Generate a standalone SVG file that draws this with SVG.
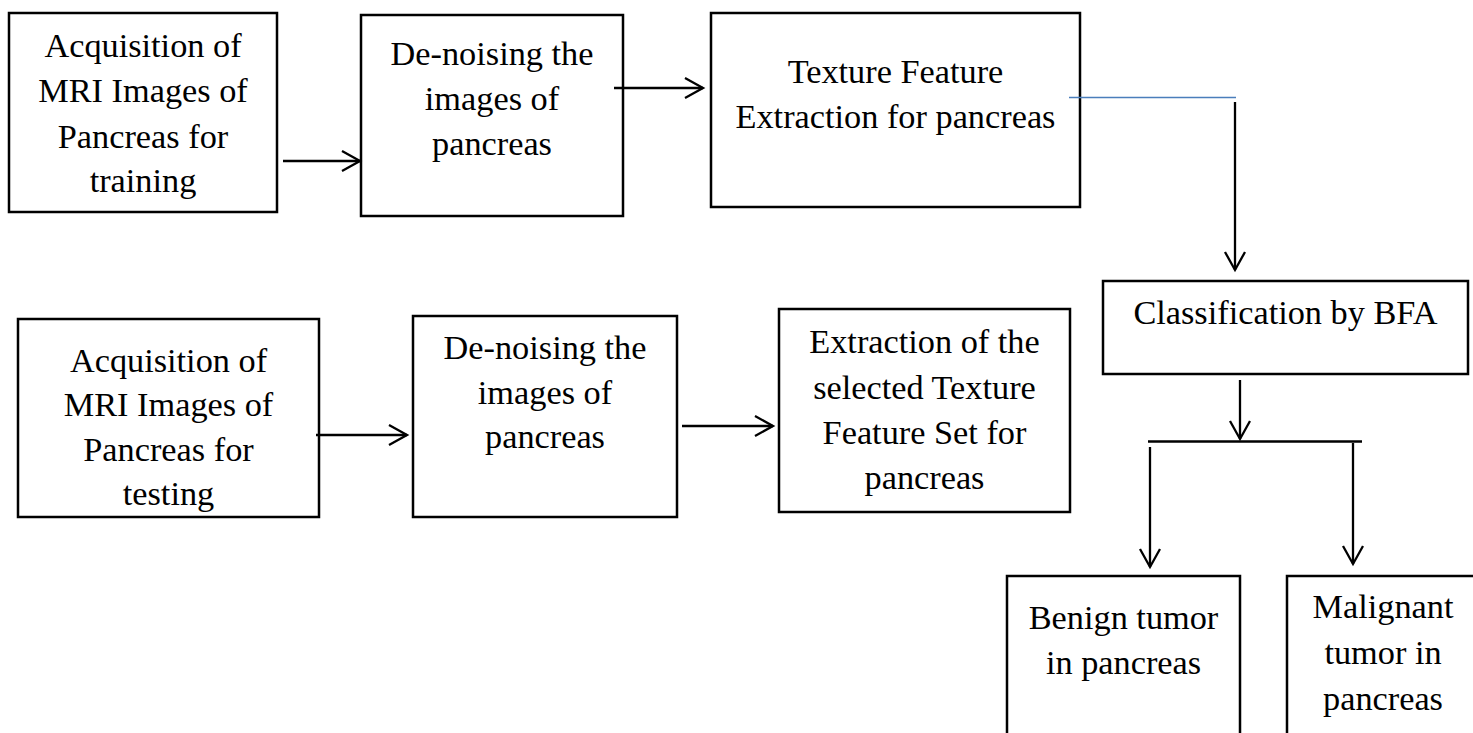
<svg xmlns="http://www.w3.org/2000/svg" width="1473" height="733" viewBox="0 0 1473 733">
<style>
.box{fill:#ffffff;stroke:#000000;stroke-width:2.5}
.lbl{font-family:"Liberation Serif","Times New Roman",serif;font-size:34.3px;fill:#000000;text-anchor:middle}
.con{fill:none;stroke:#000000;stroke-width:2.3}
.blue{fill:none;stroke:#4a7ebb;stroke-width:1.5}
</style>
<defs>
<marker id="arr" markerUnits="userSpaceOnUse" markerWidth="22" markerHeight="24" refX="19" refY="11" orient="auto">
<path d="M1,1 L19,11 L1,21" fill="none" stroke="#000000" stroke-width="2.3"/>
</marker>
</defs>
<rect width="1473" height="733" fill="#ffffff"/>
<g id="n1">
<rect class="box" x="9" y="13" width="268" height="199"/>
<text class="lbl" x="143" y="57">Acquisition of</text>
<text class="lbl" x="143" y="102">MRI Images of</text>
<text class="lbl" x="143" y="148">Pancreas for</text>
<text class="lbl" x="143" y="192">training</text>
</g>
<g id="n2">
<rect class="box" x="361" y="15" width="262" height="201"/>
<text class="lbl" x="492" y="65">De-noising the</text>
<text class="lbl" x="492" y="110">images of</text>
<text class="lbl" x="492" y="155">pancreas</text>
</g>
<g id="n3">
<rect class="box" x="711" y="13" width="369" height="194"/>
<text class="lbl" x="895.5" y="83">Texture Feature</text>
<text class="lbl" x="895.5" y="128">Extraction for pancreas</text>
</g>
<g id="n4">
<rect class="box" x="18" y="319" width="301" height="198"/>
<text class="lbl" x="168.5" y="372">Acquisition of</text>
<text class="lbl" x="168.5" y="416">MRI Images of</text>
<text class="lbl" x="168.5" y="461">Pancreas for</text>
<text class="lbl" x="168.5" y="505">testing</text>
</g>
<g id="n5">
<rect class="box" x="413" y="316" width="264" height="201"/>
<text class="lbl" x="545" y="359">De-noising the</text>
<text class="lbl" x="545" y="404">images of</text>
<text class="lbl" x="545" y="448">pancreas</text>
</g>
<g id="n6">
<rect class="box" x="779" y="309" width="291" height="203"/>
<text class="lbl" x="924.5" y="353">Extraction of the</text>
<text class="lbl" x="924.5" y="399">selected Texture</text>
<text class="lbl" x="924.5" y="444">Feature Set for</text>
<text class="lbl" x="924.5" y="489">pancreas</text>
</g>
<g id="n7">
<rect class="box" x="1103" y="281" width="365" height="93"/>
<text class="lbl" x="1285.5" y="324">Classification by BFA</text>
</g>
<g id="n8">
<rect class="box" x="1007" y="576" width="233" height="180"/>
<text class="lbl" x="1123.5" y="629">Benign tumor</text>
<text class="lbl" x="1123.5" y="674">in pancreas</text>
</g>
<g id="n9">
<rect class="box" x="1287" y="576" width="200" height="180"/>
<text class="lbl" x="1383" y="618">Malignant</text>
<text class="lbl" x="1383" y="664">tumor in</text>
<text class="lbl" x="1383" y="710">pancreas</text>
</g>
<g id="connectors">
<path class="con" d="M283,161 H360" marker-end="url(#arr)"/>
<path class="con" d="M614,88 H703" marker-end="url(#arr)"/>
<path class="blue" d="M1069,97.5 H1236"/>
<path class="con" d="M1235,102 V270" marker-end="url(#arr)"/>
<path class="con" d="M316,435 H407" marker-end="url(#arr)"/>
<path class="con" d="M682,426 H773" marker-end="url(#arr)"/>
<path class="con" d="M1240,380 V439" marker-end="url(#arr)"/>
<path class="con" d="M1148,441.5 H1362"/>
<path class="con" d="M1150,447 V567" marker-end="url(#arr)"/>
<path class="con" d="M1353,443 V564" marker-end="url(#arr)"/>
</g>
</svg>
